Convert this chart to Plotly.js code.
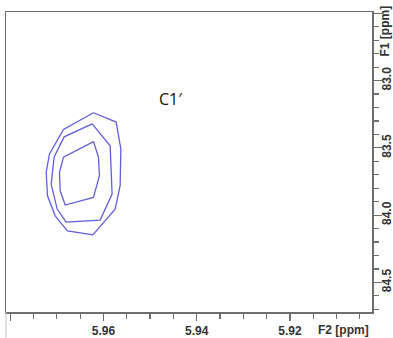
<!DOCTYPE html>
<html>
<head>
<meta charset="utf-8">
<script src="https://cdn.plot.ly/plotly-3.0.1.min.js"></script>
<style>
  html, body { margin: 0; padding: 0; background: #fff; }
  #plot { width: 393px; height: 338px; }
</style>
</head>
<body>
<div id="plot"></div>
<script>
// C1' cross peak: three contour levels (F2 / F1 chemical shifts in ppm)
const outerF2 = [5.96214, 5.95728, 5.95627, 5.95642, 5.95749, 5.96227, 5.96772, 5.97035, 5.97200, 5.97228, 5.97157, 5.96857, 5.96214];
const outerF1 = [83.239, 83.308, 83.508, 83.781, 83.955, 84.147, 84.117, 84.005, 83.856, 83.681, 83.545, 83.363, 83.239];

const middleF2 = [5.96242, 5.95856, 5.95814, 5.96071, 5.96799, 5.96992, 5.97121, 5.97057, 5.96842, 5.96242];
const middleF1 = [83.321, 83.485, 83.843, 84.037, 84.052, 83.955, 83.769, 83.567, 83.418, 83.321];

const innerF2 = [5.96214, 5.96107, 5.96086, 5.96214, 5.96821, 5.96928, 5.96943, 5.96857, 5.96214];
const innerF1 = [83.453, 83.569, 83.707, 83.868, 83.925, 83.819, 83.681, 83.569, 83.453];

const peakLabel = "C1\u2032";
const peakLabelF2 = 5.9455;
const peakLabelF1 = 83.134;

const contourColor = '#5f5fe0';
const axisColor = '#6e6e6e';
const tickFont = { family: 'Liberation Sans, Arial, sans-serif', size: 12, color: '#333', weight: 'bold' };

function level(xs, ys) {
  return {
    x: xs, y: ys, type: 'scatter', mode: 'lines',
    line: { color: contourColor, width: 1.3 },
    hoverinfo: 'skip', showlegend: false
  };
}

const data = [level(outerF2, outerF1), level(middleF2, middleF1), level(innerF2, innerF1)];

const layout = {
  width: 393, height: 338,
  margin: { l: 6, r: 21, t: 12, b: 26 },
  paper_bgcolor: '#fff', plot_bgcolor: '#fff',
  showlegend: false,
  xaxis: {
    range: [5.9809, 5.9024],
    tick0: 5.96, dtick: 0.02, tickformat: '.2f',
    ticks: 'outside', ticklen: 7, tickwidth: 1.2, tickcolor: axisColor,
    minor: { dtick: 0.005, tick0: 5.96, ticks: 'outside', ticklen: 5, tickwidth: 1.2, tickcolor: axisColor },
    showline: true, mirror: true, linecolor: axisColor, linewidth: 1.5,
    showgrid: false, zeroline: false,
    tickfont: tickFont
  },
  yaxis: {
    range: [84.72, 82.49],
    side: 'right',
    tick0: 83, dtick: 0.5, tickformat: '.1f', tickangle: -90,
    ticks: 'outside', ticklen: 8, tickwidth: 1.2, tickcolor: axisColor,
    ticklabelstandoff: -5,
    minor: { dtick: 0.1, tick0: 83, ticks: 'outside', ticklen: 5, tickwidth: 1.2, tickcolor: axisColor },
    showline: true, mirror: true, linecolor: axisColor, linewidth: 1.5,
    showgrid: false, zeroline: false,
    tickfont: tickFont
  },
  annotations: [
    {
      text: peakLabel, x: peakLabelF2, y: peakLabelF1, xref: 'x', yref: 'y',
      showarrow: false, font: { family: 'Open Sans, sans-serif', size: 16, color: '#111' }
    },
    {
      text: 'F2 [ppm]', xref: 'paper', yref: 'paper', x: 0.923, y: -0.06,
      xanchor: 'center', yanchor: 'middle', showarrow: false, font: tickFont
    },
    {
      text: 'F1 [ppm]', xref: 'paper', yref: 'paper', x: 1.0, xshift: 13, y: 0.935,
      xanchor: 'center', yanchor: 'middle', textangle: -90, showarrow: false, font: tickFont
    }
  ],
  shapes: [
    // faint edge continuing below the frame on the left
    { type: 'line', xref: 'paper', yref: 'paper', x0: 0, x1: 0, y0: 0, y1: -0.1,
      line: { color: '#c8c8c8', width: 1 } }
  ]
};

Plotly.newPlot('plot', data, layout, { staticPlot: true, displayModeBar: false });
</script>
</body>
</html>
